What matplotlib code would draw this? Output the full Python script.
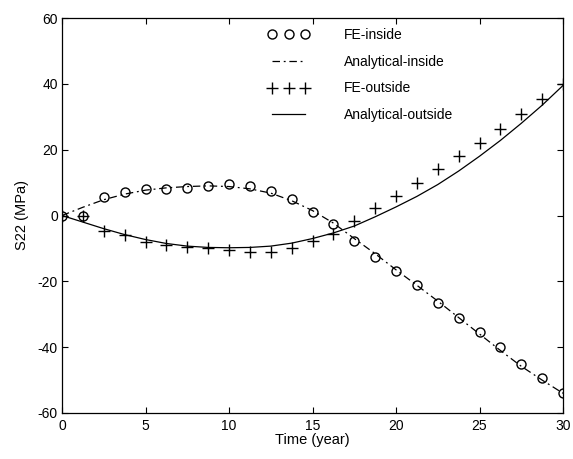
import matplotlib
matplotlib.use("Agg")
import matplotlib.pyplot as plt

plt.rcParams['font.family'] = ['Liberation Sans', 'DejaVu Sans']
plt.rcParams['axes.unicode_minus'] = False

# FE sample times (years)
t_fe = [0, 1.25, 2.5, 3.75, 5, 6.25, 7.5, 8.75, 10, 11.25, 12.5, 13.75, 15,
        16.25, 17.5, 18.75, 20, 21.25, 22.5, 23.75, 25, 26.25, 27.5, 28.75, 30]
fe_inside = [0, 0, 5.5, 7, 8.2, 8, 8.5, 9, 9.5, 9, 7.5, 5, 1,
             -2.5, -7.8, -12.5, -17, -21, -26.5, -31, -35.5, -40, -45, -49.5, -54]
fe_outside = [0, 0, -4.8, -6, -8, -9, -9.5, -10, -10.5, -11, -11, -9.8, -7.8,
              -5.5, -1.7, 2.4, 5.9, 10, 14, 18, 22, 26.4, 30.7, 35.3, 40]

# Analytical curves
t_an = [0, 1.25, 2.5, 3.75, 5, 6.25, 7.5, 8.75, 10, 11.25, 12.5, 13.75, 15,
        16.25, 17.5, 18.75, 20, 21.25, 22.5, 23.75, 25, 26.25, 27.5, 28.75, 30]
an_inside = [0, 2.5, 4.8, 6.5, 7.7, 8.4, 8.8, 9.0, 8.8, 8.1, 6.8, 4.5, 1.5,
             -2.3, -7, -11.6, -16.5, -21.2, -26, -31, -36, -41, -45.8, -50, -54]
an_outside = [0, -2, -4, -5.8, -7.3, -8.5, -9.3, -9.7, -9.8, -9.7, -9.3, -8.4, -7,
              -5.3, -3.2, -0.4, 2.6, 5.8, 9.4, 13.5, 18.0, 22.8, 28, 33.5, 39.5]

fig = plt.figure(figsize=(5.73, 4.59), dpi=100)
ax = fig.add_axes([62/573, 1-413/459, 501/573, 395/459])

ax.plot(t_fe, fe_inside, 'o', mfc='none', mec='black', ms=6.5, mew=1.0,
        label='FE-inside')
ax.plot(t_an, an_inside, color='black', lw=0.9,
        linestyle=(0, (6, 3, 1.5, 3)), label='Analytical-inside')
ax.plot(t_fe, fe_outside, '+', color='black', ms=8, mew=1.0,
        label='FE-outside')
ax.plot(t_an, an_outside, color='black', lw=0.9,
        linestyle='-', label='Analytical-outside')

ax.set_xlim(0, 30)
ax.set_ylim(-60, 60)
ax.set_xticks([0, 5, 10, 15, 20, 25, 30])
ax.set_yticks([-60, -40, -20, 0, 20, 40, 60])
ax.tick_params(direction='in', top=True, right=True, labelsize=10,
               length=4, width=0.8, pad=3)
ax.tick_params(axis='x', pad=4)
for s in ax.spines.values():
    s.set_linewidth(0.9)

ax.set_xlabel('Time (year)', fontsize=10.5, labelpad=0)
ax.set_ylabel('S22 (MPa)', fontsize=10.5, labelpad=6)

leg = ax.legend(loc='upper left', bbox_to_anchor=(0.411, 0.975),
                frameon=False, numpoints=3, handlelength=3.0,
                handletextpad=2.5, labelspacing=0.92, fontsize=10,
                borderpad=0, borderaxespad=0)

fig.savefig('out.png', dpi=100)
